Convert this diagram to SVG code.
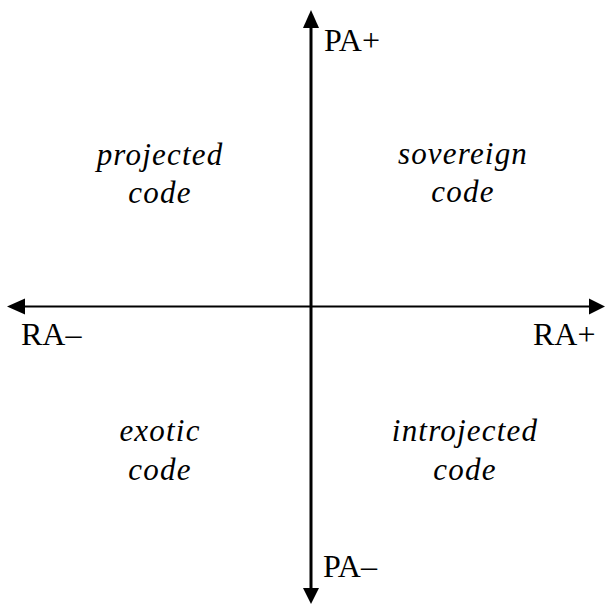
<svg xmlns="http://www.w3.org/2000/svg" width="606" height="605" viewBox="0 0 606 605">
<style>
.q{font-family:"Liberation Serif","Times New Roman",serif;font-style:italic;font-size:31px;letter-spacing:1.2px;text-anchor:middle;fill:#000}
.ax{font-family:"Liberation Serif","Times New Roman",serif;font-size:32px;fill:#000}
.ah{fill:#000}
</style>
<rect width="606" height="605" fill="#fff"/>
<g id="connectors">
<line x1="311" y1="24" x2="311" y2="592" stroke="#000" stroke-width="3"/>
<line x1="20" y1="306.5" x2="594" y2="306.5" stroke="#000" stroke-width="2"/>
<polygon class="ah" points="311,10 303,28 319,28"/>
<polygon class="ah" points="311,604 303,588 319,588"/>
<polygon class="ah" points="7,306.5 25,298.5 25,314.5"/>
<polygon class="ah" points="605,306.5 589,298.5 589,314.5"/>
</g>
<g id="label-pa-plus"><text class="ax" x="324" y="51">PA+</text></g>
<g id="label-pa-minus"><text class="ax" x="323" y="577">PA–</text></g>
<g id="label-ra-minus"><text class="ax" x="21" y="345">RA–</text></g>
<g id="label-ra-plus"><text class="ax" x="533" y="345">RA+</text></g>
<g id="projected-code"><text class="q" x="160" y="165">projected</text><text class="q" x="160" y="203">code</text></g>
<g id="sovereign-code"><text class="q" x="463" y="164">sovereign</text><text class="q" x="463" y="202">code</text></g>
<g id="exotic-code"><text class="q" x="160" y="441">exotic</text><text class="q" x="160" y="480">code</text></g>
<g id="introjected-code"><text class="q" x="465" y="441">introjected</text><text class="q" x="465" y="480">code</text></g>
</svg>
